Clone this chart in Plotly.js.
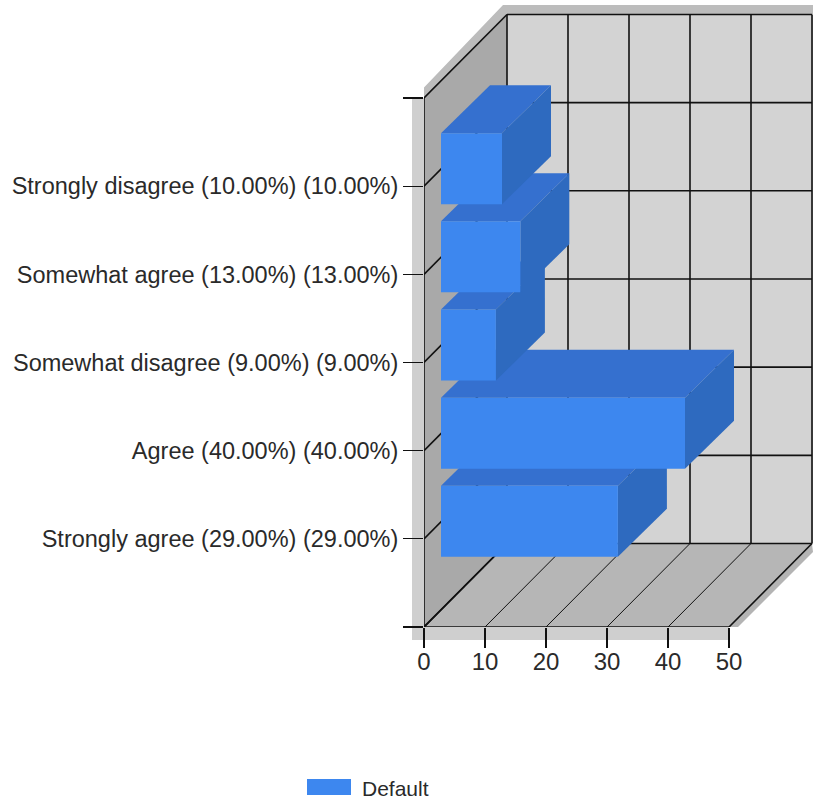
<!DOCTYPE html>
<html><head><meta charset="utf-8">
<script src="https://cdn.plot.ly/plotly-3.0.1.min.js"></script>
<style>html,body{margin:0;padding:0;background:#fff;overflow:hidden}</style>
</head><body><div id="chart" style="width:813px;height:803px"></div>
<script>
// data, listed from the bottom of the chart upward
const categories = ["Strongly agree (29.00%) (29.00%)","Agree (40.00%) (40.00%)","Somewhat disagree (9.00%) (9.00%)","Somewhat agree (13.00%) (13.00%)","Strongly disagree (10.00%) (10.00%)"];
const values = [29,40,9,13,10];
const xTicks = [0,10,20,30,40,50];
const seriesName = "Default";

// plot frame in pixels
const W=813,H=803,L=424,T=5,B=627;
const PX=6.1, PY=88.17;
const ux=p=>p/PX, uy=p=>p/PY;
const xMax=ux(W-L), yMax=uy(B-T);
const wallX=ux(83), wallY=uy(83.5);
const yTop=categories.length+1;
const barInX=ux(17), barInY=uy(17.5), barDX=ux(49), barDY=uy(48), barH=uy(71);
const xMaxTick=xTicks[xTicks.length-1];

const poly=(xs,ys,c)=>({type:'scatter',mode:'none',x:[...xs,xs[0]],y:[...ys,ys[0]],fill:'toself',fillcolor:c,cliponaxis:false,hoverinfo:'skip',showlegend:false});
const lines=(segs,w)=>{const x=[],y=[];segs.forEach(s=>{x.push(s[0],s[2],null);y.push(s[1],s[3],null)});
  return {type:'scatter',mode:'lines',x,y,line:{color:'#111',width:w},cliponaxis:false,hoverinfo:'skip',showlegend:false,connectgaps:false}};

const traces=[];
// drop shadow of the box
const sxp=p=>(p-L)/PX, syp=p=>(B-p)/PY;
traces.push(poly([414,503,813,813,507,424].map(sxp),[98,5,5,14,14,98].map(syp),'#bcbcbc'));
traces.push(poly([729,812,813,731].map(sxp),[627,544,552,634].map(syp),'#b4b4b4'));
// walls
traces.push(poly([wallX,xMax,xMax,wallX],[wallY,wallY,yTop+wallY,yTop+wallY],'#d3d3d3'));
traces.push(poly([0,wallX,wallX,0],[0,wallY,yTop+wallY,yTop],'#a9a9a9'));
traces.push(poly([0,xMaxTick,xMaxTick+wallX,wallX],[0,0,wallY,wallY],'#b6b6b6'));
// grid
const floorSegs=[], wallSegs=[];
xTicks.forEach((v,k)=>{
  (k===0||k===xTicks.length-1?wallSegs:floorSegs).push([v,0,v+wallX,wallY]);
  wallSegs.push([v+wallX,wallY,v+wallX,yTop+wallY]);
});
for(let i=0;i<=yTop;i++){
  wallSegs.push([0,i,wallX,i+wallY]);
  wallSegs.push([wallX,i+wallY,xMaxTick+wallX,i+wallY]);
}
wallSegs.push([0,0,0,yTop],[0,0,xMaxTick,0]);
traces.push(lines(floorSegs,1));
traces.push(lines(wallSegs,1.6));
// bars, lowest first so upper bars overlap
values.forEach((v,i)=>{
  const y0=i+1+barInY-barH/2, y1=y0+barH, x0=barInX, x1=barInX+v;
  traces.push(poly([x0,x1,x1+barDX,x0+barDX],[y1,y1,y1+barDY,y1+barDY],'#3570cf'));
  traces.push(poly([x1,x1+barDX,x1+barDX,x1],[y0,y0+barDY,y1+barDY,y1],'#2e6abf'));
  traces.push(poly([x0,x1,x1,x0],[y0,y0,y1,y1],'#3d87ef'));
});

const tv=[0,...categories.map((c,i)=>i+1),yTop];
const tt=['',...categories,''];
const px=p=>(p-L)/(W-L), py=p=>(B-p)/(B-T);
const rect=(x0,y0,x1,y1,c,layer)=>({type:'rect',xref:'paper',yref:'paper',x0:px(x0),x1:px(x1),y0:py(y1),y1:py(y0),fillcolor:c,line:{width:0},layer});
const layout={
  width:W,height:H,
  margin:{l:L,r:0,t:T,b:H-B,pad:0},
  paper_bgcolor:'#fff',plot_bgcolor:'rgba(0,0,0,0)',
  showlegend:false,
  xaxis:{range:[0,xMax],tickmode:'array',tickvals:xTicks,ticktext:xTicks.map(String),ticks:'outside',ticklen:20,tickwidth:1.2,tickcolor:'#111',showgrid:false,zeroline:false,showline:false,
    ticklabelstandoff:-7,tickfont:{family:'Liberation Sans',size:24,color:'#2a2a2a'}},
  yaxis:{range:[0,yMax],tickmode:'array',tickvals:tv,ticktext:tt,ticks:'outside',ticklen:20,tickwidth:1.2,tickcolor:'#111',showgrid:false,zeroline:false,showline:false,
    tickfont:{family:'Liberation Sans',size:23.5,color:'#2a2a2a'}},
  shapes:[
    rect(412,98,424,640,'#cfcfcf','below'),
    rect(424,627,729,640,'#cfcfcf','below'),
    rect(307,779,351,795,'#3d87ef','above')
  ],
  annotations:[{xref:'paper',yref:'paper',x:px(360),y:py(788),xanchor:'left',yanchor:'middle',text:seriesName,showarrow:false,font:{family:'Liberation Sans',size:21,color:'#2a2a2a'}}]
};
Plotly.newPlot('chart',traces,layout,{displayModeBar:false,staticPlot:true});
</script></body></html>
